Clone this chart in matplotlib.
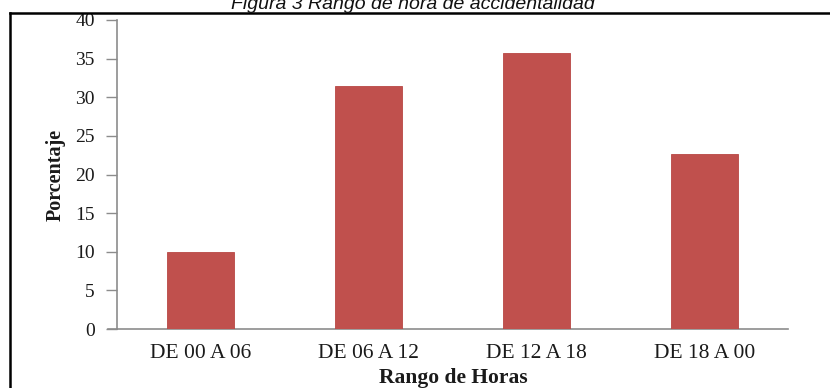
import matplotlib
matplotlib.use("Agg")
import matplotlib.pyplot as plt
from matplotlib.lines import Line2D

# Accident share by time-of-day range
categories = ["DE 00 A 06", "DE 06 A 12", "DE 12 A 18", "DE 18 A 00"]
percentages = [10.0, 31.4, 35.7, 22.6]
yticks = [0, 5, 10, 15, 20, 25, 30, 35, 40]

title_text = "Figura 3 Rango de hora de accidentalidad"
xlabel_text = "Rango de Horas"
ylabel_text = "Porcentaje"

W, H = 830, 388
fig = plt.figure(figsize=(W / 100, H / 100), dpi=100)
fig.patch.set_facecolor("white")

ax = fig.add_axes([117 / W, 1 - 329 / H, (788 - 117) / W, (329 - 20) / H])
x = range(len(categories))
ax.bar(x, percentages, width=0.4, color="#C0504D", edgecolor="#B84744", linewidth=0.6, zorder=3)

ax.set_xlim(-0.5, len(categories) - 0.5)
ax.set_ylim(0, 40)
ax.set_yticks(yticks)
ax.set_xticks(list(x))

serif = ["Liberation Serif", "DejaVu Serif"]
text_col = "#1a1a1a"
ax.set_yticklabels([str(t) for t in yticks], family=serif, fontsize=14, color=text_col)
ax.set_xticklabels(categories, family=serif, fontsize=15.5, color=text_col)

axis_grey = "#8C8C8C"
for side in ("top", "right"):
    ax.spines[side].set_visible(False)
ax.spines["left"].set_color(axis_grey)
ax.spines["bottom"].set_color(axis_grey)
ax.spines["left"].set_linewidth(1.2)
ax.spines["bottom"].set_linewidth(1.2)
ax.tick_params(axis="y", direction="out", length=8, width=1.0, color=axis_grey, pad=8)
ax.tick_params(axis="x", length=0, pad=11)

# extend the baseline left so it meets the zero tick
ax.add_line(Line2D([108 / W, 117 / W], [1 - 329 / H, 1 - 329 / H], transform=fig.transFigure,
                   color=axis_grey, linewidth=1.2, clip_on=False))

ax.set_ylabel(ylabel_text, family=serif, fontsize=14.5, fontweight="bold", color=text_col)
ax.yaxis.set_label_coords((66 - 117) / (788 - 117), 0.5)
fig.text(453 / W, 1 - 378 / H, xlabel_text, family=serif, fontsize=15.5, fontweight="bold",
         color=text_col, ha="center", va="center")

# frame around the figure
fig.add_artist(Line2D([9.5 / W, 9.5 / W], [0, 1 - 12.5 / H], transform=fig.transFigure,
                      color="black", linewidth=1.8))
fig.add_artist(Line2D([9.5 / W, 1], [1 - 12.5 / H, 1 - 12.5 / H], transform=fig.transFigure,
                      color="black", linewidth=1.8))

fig.text(413 / W, 1 - 9 / H, title_text, family=["Liberation Sans", "DejaVu Sans"],
         fontsize=14, style="italic", ha="center", va="baseline", color="#111111")

fig.savefig("out.png", dpi=100)
